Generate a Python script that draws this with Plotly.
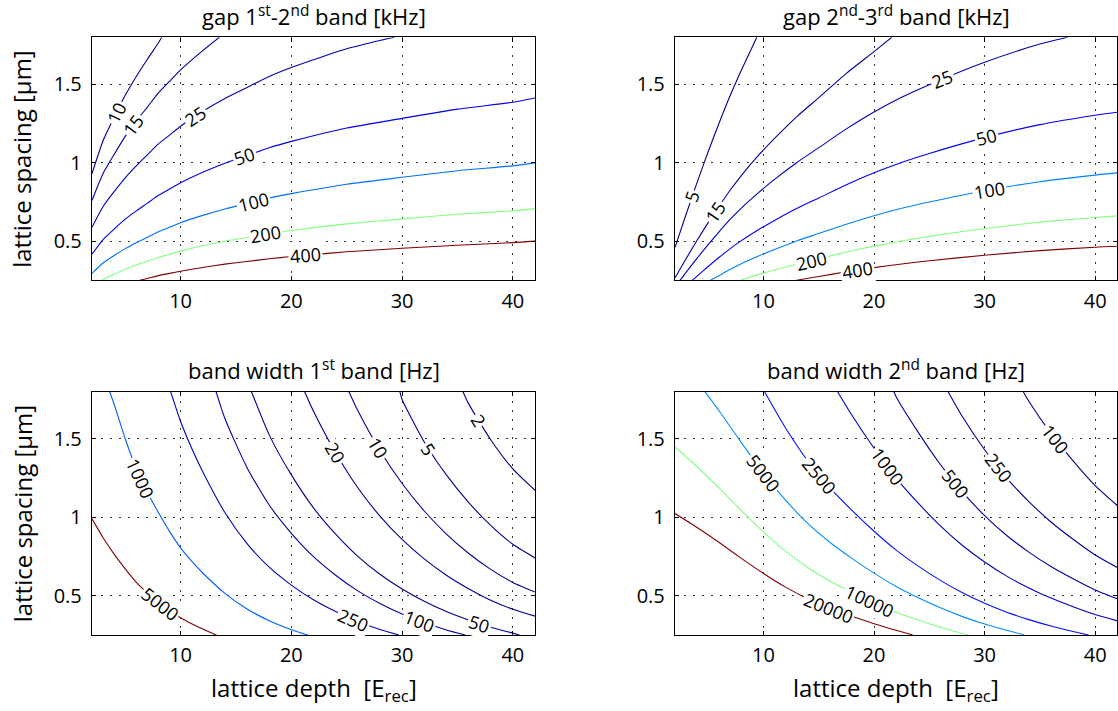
import numpy as np
import plotly.graph_objects as go

# ----------------------------------------------------------------------------
# Data
# every contour line: list of (lattice depth [E_rec], lattice spacing [um])
# ----------------------------------------------------------------------------
DEPTH_RANGE = [2, 42]
SPACING_RANGE = [0.25, 1.8]
X_TICKS = [10, 20, 30, 40]
Y_TICKS = [0.5, 1, 1.5]
Y_TICK_TEXT = ["0.5", "1", "1.5"]

# panel 1 : gap 1st-2nd band [kHz]
GAP12_10 = [(2, 0.93), (3, 1.14), (4, 1.29), (5, 1.43), (6, 1.55), (7, 1.66), (8, 1.765), (8.3, 1.8)]
GAP12_15 = [(2, 0.759), (3, 0.931), (4, 1.053), (5, 1.168), (6, 1.266), (7, 1.355), (8, 1.445),
            (9, 1.519), (10, 1.592), (12, 1.715), (13.5, 1.8)]
GAP12_25 = [(2, 0.588), (3, 0.721), (4, 0.816), (5, 0.904), (6, 0.98), (7, 1.05), (8, 1.12), (9, 1.176),
            (10, 1.233), (12, 1.328), (14, 1.41), (16, 1.48), (18, 1.55), (20, 1.607), (22, 1.657),
            (25, 1.727), (28, 1.78), (29.3, 1.8)]
GAP12_50 = [(2, 0.416), (3, 0.51), (4, 0.577), (5, 0.64), (6, 0.693), (7, 0.742), (8, 0.792), (9, 0.832),
            (10, 0.872), (12, 0.939), (14, 0.997), (16, 1.046), (18, 1.096), (20, 1.136), (22, 1.172),
            (25, 1.221), (30, 1.283), (35, 1.342), (40, 1.386), (42, 1.413)]
GAP12_100 = [(2, 0.294), (3, 0.36), (4, 0.408), (5, 0.452), (6, 0.49), (7, 0.525), (8, 0.56), (9, 0.588),
             (10, 0.617), (12, 0.664), (14, 0.705), (16, 0.74), (18, 0.775), (20, 0.803), (22, 0.828),
             (25, 0.863), (30, 0.907), (35, 0.949), (40, 0.98), (42, 0.999)]
GAP12_200 = [(2.9, 0.25), (4, 0.288), (5, 0.32), (6, 0.347), (7, 0.371), (8, 0.396), (9, 0.416),
             (10, 0.436), (12, 0.47), (14, 0.499), (16, 0.523), (18, 0.548), (20, 0.568), (22, 0.586),
             (25, 0.61), (30, 0.642), (35, 0.671), (40, 0.693), (42, 0.707)]
GAP12_400 = [(6.3, 0.25), (7, 0.262), (8, 0.28), (9, 0.294), (10, 0.308), (12, 0.332), (14, 0.353),
             (16, 0.37), (18, 0.387), (20, 0.402), (22, 0.414), (25, 0.432), (30, 0.454), (35, 0.474),
             (40, 0.49), (42, 0.5)]
GAP12_LABELS = [(10, 4.2), (15, 5.73), (25, 11.35), (50, 15.77), (100, 16.6), (200, 17.7), (400, 21.25)]

# panel 2 : gap 2nd-3rd band [kHz]
GAP23_5 = [(2, 0.46), (3, 0.67), (4, 0.875), (5, 1.07), (6, 1.255), (7, 1.43), (8, 1.59), (9, 1.74),
           (9.4, 1.8)]
GAP23_15 = [(2, 0.266), (3, 0.387), (4, 0.505), (5, 0.618), (6, 0.724), (7, 0.826), (8, 0.918), (9.4, 1.035),
            (11, 1.155), (13, 1.293), (15, 1.415), (17.5, 1.57), (20, 1.709), (21.6, 1.8)]
GAP23_25 = [(2.45, 0.25), (3, 0.30), (4, 0.391), (5, 0.478), (6, 0.561), (7, 0.64), (8, 0.711),
            (9.4, 0.8), (11, 0.894), (13, 1.0), (15, 1.096), (17.5, 1.216), (20, 1.324), (22.5, 1.418),
            (25, 1.498), (30, 1.641), (35, 1.757), (37.5, 1.8)]
GAP23_50 = [(3.56, 0.25), (4, 0.277), (5, 0.338), (6, 0.397), (7, 0.452), (8, 0.503), (9.4, 0.566),
            (11, 0.632), (13, 0.708), (15, 0.775), (17.5, 0.86), (20, 0.936), (22.5, 1.002), (25, 1.059),
            (30, 1.16), (35, 1.243), (40, 1.303), (42, 1.322)]
GAP23_100 = [(5.2, 0.25), (6, 0.281), (7, 0.32), (8, 0.356), (9.4, 0.4), (11, 0.447), (13, 0.501),
             (15, 0.548), (17.5, 0.608), (20, 0.662), (22.5, 0.709), (25, 0.749), (30, 0.821), (35, 0.879),
             (40, 0.921), (42, 0.935)]
GAP23_200 = [(7.9, 0.25), (9.4, 0.283), (11, 0.316), (13, 0.354), (15, 0.387), (17.5, 0.43), (20, 0.468),
             (22.5, 0.501), (25, 0.53), (30, 0.58), (35, 0.621), (40, 0.651), (42, 0.661)]
GAP23_400 = [(13, 0.25), (15, 0.274), (17.5, 0.304), (20, 0.331), (22.5, 0.354), (25, 0.375), (30, 0.41),
             (35, 0.439), (40, 0.461), (42, 0.467)]
GAP23_LABELS = [(5, 3.56), (15, 5.64), (25, 26.15), (50, 30.16), (100, 30.48), (200, 14.3), (400, 18.46)]

# panel 3 : band width 1st band [Hz]
BW1_5000 = [(2, 0.99), (3, 0.87), (4, 0.765), (5, 0.671), (6, 0.586), (7, 0.519), (8, 0.461), (9, 0.407),
            (10, 0.36), (11, 0.322), (12, 0.288), (13, 0.257), (13.25, 0.25)]
BW1_1000 = [(3.6, 1.8), (4, 1.72), (5, 1.5), (6, 1.31), (7, 1.16), (8, 1.03), (9, 0.91), (10, 0.805),
            (11, 0.72), (12, 0.645), (14, 0.515), (16, 0.416), (18, 0.341), (20, 0.284), (21.5, 0.25)]
BW1_250 = [(9.1, 1.8), (10, 1.61), (11, 1.44), (12, 1.29), (14, 1.03), (16, 0.832), (18, 0.682), (20, 0.568),
           (22, 0.474), (24, 0.399), (26, 0.336), (28, 0.285), (29.7, 0.25)]
BW1_100 = [(13.2, 1.8), (14, 1.629), (16, 1.316), (18, 1.078), (20, 0.898), (22, 0.749), (24, 0.631),
           (26, 0.531), (28, 0.451), (30, 0.384), (32, 0.329), (34, 0.282), (35.7, 0.25)]
BW1_50 = [(16.4, 1.8), (18, 1.525), (20, 1.27), (22, 1.06), (24, 0.892), (26, 0.751), (28, 0.637),
          (30, 0.543), (32, 0.465), (34, 0.399), (36, 0.345), (38, 0.299), (40, 0.262), (40.6, 0.25)]
BW1_20 = [(21.2, 1.8), (22, 1.676), (24, 1.411), (26, 1.188), (28, 1.008), (30, 0.859), (32, 0.735),
          (34, 0.631), (36, 0.545), (38, 0.472), (40, 0.414), (42, 0.37)]
BW1_10 = [(25.2, 1.8), (26, 1.68), (28, 1.425), (30, 1.215), (32, 1.04), (34, 0.893), (36, 0.771),
          (38, 0.668), (40, 0.585), (42, 0.524)]
BW1_5 = [(29.8, 1.8), (30, 1.75), (32, 1.48), (34, 1.27), (36, 1.095), (38, 0.948), (40, 0.828), (42, 0.741)]
BW1_2 = [(35.5, 1.8), (36, 1.724), (38, 1.494), (40, 1.308), (42, 1.172)]
BW1_LABELS = [(1000, 6.42), (5000, 8.2), (250, 25.6), (100, 31.56), (50, 37.0), (20, 24.0), (10, 27.85),
              (5, 32.4), (2, 36.9)]

# panel 4 : band width 2nd band [Hz]
BW2_20000 = [(2, 1.024), (4, 0.935), (6, 0.839), (8, 0.738), (10, 0.642), (12, 0.555), (14, 0.481),
             (16, 0.42), (18, 0.369), (20, 0.322), (22, 0.28), (23.5, 0.25)]
BW2_10000 = [(2, 1.448), (4, 1.322), (6, 1.186), (8, 1.043), (10, 0.907), (12, 0.784), (14, 0.68),
             (16, 0.594), (18, 0.522), (20, 0.455), (22, 0.395), (24, 0.345), (26, 0.299), (28, 0.259),
             (28.5, 0.25)]
BW2_5000 = [(4.7, 1.8), (6, 1.677), (8, 1.476), (10, 1.283), (12, 1.109), (14, 0.961), (16, 0.841),
            (18, 0.738), (20, 0.644), (22, 0.559), (24, 0.487), (26, 0.423), (28, 0.367), (30, 0.32),
            (32, 0.28), (33.6, 0.25)]
BW2_2500 = [(10.1, 1.8), (12, 1.569), (14, 1.36), (16, 1.189), (18, 1.044), (20, 0.911), (22, 0.791),
            (24, 0.689), (26, 0.598), (28, 0.519), (30, 0.452), (32, 0.395), (34, 0.348), (36, 0.307),
            (38, 0.272), (39.4, 0.25)]
BW2_1000 = [(16.7, 1.8), (18, 1.65), (20, 1.44), (22, 1.25), (24, 1.09), (26, 0.945), (28, 0.82),
            (30, 0.715), (32, 0.625), (34, 0.55), (36, 0.485), (38, 0.43), (40, 0.38), (42, 0.34)]
BW2_500 = [(21.8, 1.8), (22, 1.768), (24, 1.541), (26, 1.336), (28, 1.16), (30, 1.011), (32, 0.884),
           (34, 0.778), (36, 0.686), (38, 0.608), (40, 0.537), (42, 0.481)]
BW2_250 = [(26.7, 1.8), (28, 1.64), (30, 1.43), (32, 1.25), (34, 1.10), (36, 0.97), (38, 0.86),
           (40, 0.76), (42, 0.68)]
BW2_100 = [(33.5, 1.8), (34, 1.739), (36, 1.534), (38, 1.36), (40, 1.202), (42, 1.075)]
BW2_LABELS = [(5000, 10.0), (2500, 15.1), (1000, 21.2), (500, 27.4), (250, 31.3), (100, 36.4),
              (10000, 19.6), (20000, 15.9)]

PANEL_TITLES = ["gap 1<sup>st</sup>-2<sup>nd</sup> band [kHz]",
                "gap 2<sup>nd</sup>-3<sup>rd</sup> band [kHz]",
                "band width 1<sup>st</sup> band [Hz]",
                "band width 2<sup>nd</sup> band [Hz]"]
X_TITLE = "lattice depth&nbsp;&nbsp;[E<sub>rec</sub>]"
Y_TITLE = "lattice spacing [μm]"

# ----------------------------------------------------------------------------
# styles (jet colormap colours of the contour levels)
# ----------------------------------------------------------------------------
DB0, DB1, DB2, DB3 = "rgb(0,0,143)", "rgb(0,0,159)", "rgb(0,0,185)", "rgb(0,0,235)"
panels = [
    dict(lines={10: GAP12_10, 15: GAP12_15, 25: GAP12_25, 50: GAP12_50, 100: GAP12_100,
                200: GAP12_200, 400: GAP12_400},
         colors={10: DB0, 15: DB1, 25: DB2, 50: DB3, 100: "rgb(0,112,255)",
                 200: "rgb(128,255,128)", 400: "rgb(128,0,0)"},
         labels=GAP12_LABELS, dom=(0, 0)),
    dict(lines={5: GAP23_5, 15: GAP23_15, 25: GAP23_25, 50: GAP23_50, 100: GAP23_100,
                200: GAP23_200, 400: GAP23_400},
         colors={5: DB0, 15: DB1, 25: DB2, 50: "rgb(0,0,250)", 100: "rgb(0,128,255)",
                 200: "rgb(128,255,128)", 400: "rgb(128,0,0)"},
         labels=GAP23_LABELS, dom=(1, 0)),
    dict(lines={5000: BW1_5000, 1000: BW1_1000, 250: BW1_250, 100: BW1_100, 50: BW1_50,
                20: BW1_20, 10: BW1_10, 5: BW1_5, 2: BW1_2},
         colors={5000: "rgb(128,0,0)", 1000: "rgb(0,96,255)", 250: DB2, 100: DB1, 50: DB0,
                 20: DB0, 10: DB0, 5: DB0, 2: DB0},
         labels=BW1_LABELS, dom=(0, 1)),
    dict(lines={20000: BW2_20000, 10000: BW2_10000, 5000: BW2_5000, 2500: BW2_2500, 1000: BW2_1000,
                500: BW2_500, 250: BW2_250, 100: BW2_100},
         colors={20000: "rgb(128,0,0)", 10000: "rgb(128,255,128)", 5000: "rgb(0,143,255)",
                 2500: "rgb(0,16,255)", 1000: DB2, 500: DB1, 250: DB0, 100: DB0},
         labels=BW2_LABELS, dom=(1, 1)),
]

W, H = 1118, 711
X_DOMS = [(92 / W, 535 / W), (675 / W, 1117.3 / W)]
Y_DOMS = [(1 - 280.3 / H, 1 - 37.3 / H), (1 - 635 / H, 1 - 391.7 / H)]
FONT = "Open Sans"

fig = go.Figure()
annotations = []

for i, p in enumerate(panels):
    n = i + 1
    xa = "x" if n == 1 else f"x{n}"
    ya = "y" if n == 1 else f"y{n}"
    cx, cy = p["dom"]
    xd, yd = X_DOMS[cx], Y_DOMS[cy]

    for lev, pts in p["lines"].items():
        xs = [q[0] for q in pts]
        ys = [q[1] for q in pts]
        fig.add_trace(go.Scatter(x=xs, y=ys, mode="lines", xaxis=xa, yaxis=ya,
                                 line=dict(color=p["colors"][lev], width=1.1, shape="spline",
                                           smoothing=0.6),
                                 hoverinfo="skip", showlegend=False))

    # pixel scale of this panel for label rotation
    pxx = (xd[1] - xd[0]) * W / (DEPTH_RANGE[1] - DEPTH_RANGE[0])
    pxy = (yd[1] - yd[0]) * H / (SPACING_RANGE[1] - SPACING_RANGE[0])
    for lev, lx in p["labels"]:
        pts = p["lines"][lev]
        xs = np.array([q[0] for q in pts])
        ys = np.array([q[1] for q in pts])
        ly = float(np.interp(lx, xs, ys))
        dx = 0.5
        y1 = np.interp(lx - dx, xs, ys)
        y2 = np.interp(lx + dx, xs, ys)
        ang = -np.degrees(np.arctan2((y2 - y1) * pxy, 2 * dx * pxx))
        annotations.append(dict(x=lx, y=ly, xref=xa, yref=ya, text=str(lev), showarrow=False,
                                textangle=float(ang), bgcolor="white", borderpad=1,
                                font=dict(family=FONT, size=18, color="black"),
                                xanchor="center", yanchor="middle"))

    axis_common = dict(showline=True, linecolor="black", linewidth=1.4, mirror="ticks",
                       ticks="inside", ticklen=4, tickwidth=1, tickcolor="black",
                       showgrid=True, gridcolor="#333", griddash="2px,7px", gridwidth=1,
                       zeroline=False, fixedrange=True,
                       tickfont=dict(family=FONT, size=20, color="black"))
    fig.layout[("xaxis" if n == 1 else f"xaxis{n}")] = dict(
        axis_common, domain=list(xd), range=DEPTH_RANGE, tickvals=X_TICKS,
        anchor=ya, ticklabelstandoff=2)
    fig.layout[("yaxis" if n == 1 else f"yaxis{n}")] = dict(
        axis_common, domain=list(yd), range=SPACING_RANGE, tickvals=Y_TICKS,
        ticktext=Y_TICK_TEXT, anchor=xa, ticklabelstandoff=5)

    # panel title
    annotations.append(dict(x=(xd[0] + xd[1]) / 2, y=yd[1] + 22 / H, xref="paper", yref="paper",
                            text=PANEL_TITLES[i], showarrow=False, xanchor="center",
                            yanchor="middle", font=dict(family=FONT, size=22, color="black")))
    if cx == 0:
        annotations.append(dict(x=22 / W, y=(yd[0] + yd[1]) / 2, xref="paper", yref="paper",
                                text=Y_TITLE, textangle=-90, showarrow=False,
                                xanchor="center", yanchor="middle",
                                font=dict(family=FONT, size=24, color="black")))
    if cy == 1:
        annotations.append(dict(x=(xd[0] + xd[1]) / 2, y=1 - 689 / H, xref="paper", yref="paper",
                                text=X_TITLE, showarrow=False, xanchor="center",
                                yanchor="middle", font=dict(family=FONT, size=24, color="black")))

fig.update_layout(width=W, height=H, autosize=False, margin=dict(l=0, r=0, t=0, b=0),
                  paper_bgcolor="white", plot_bgcolor="white", template="none",
                  showlegend=False, annotations=annotations,
                  font=dict(family=FONT, color="black"))

fig.write_html("out.html")
